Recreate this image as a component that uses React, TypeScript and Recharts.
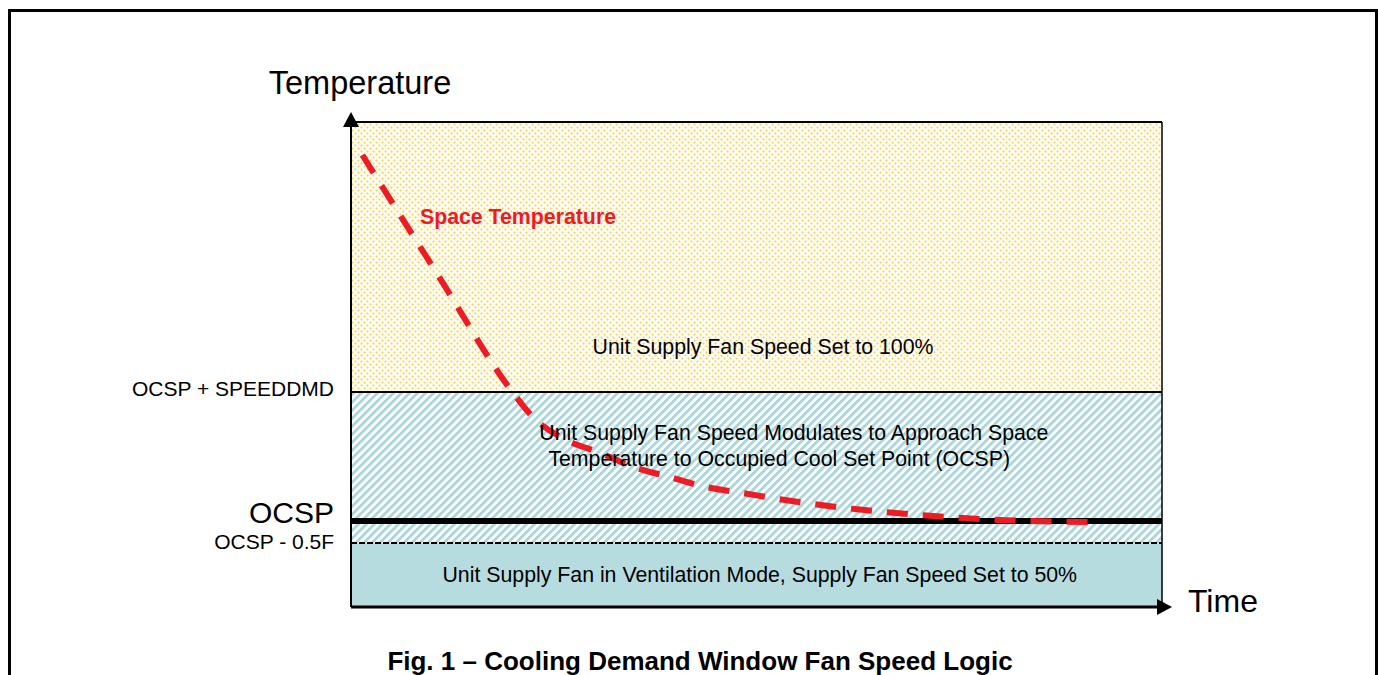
import React from "react";
import {
  ComposedChart,
  Line,
  XAxis,
  YAxis,
  ReferenceArea,
  ReferenceLine,
  ReferenceDot,
} from "recharts";

// time runs 0..100, temperature in arbitrary units 0..100
const timePts = [1.4, 10.7, 20.0, 22.4, 26.6, 30.7, 34.8, 39.3, 43.9, 48.3, 53.3, 62.1, 71.4, 80.6, 91.1];
const spaceTemp = [93.2, 68.5, 44.1, 39.2, 34.4, 31.8, 28.9, 26.8, 24.7, 23.5, 22.1, 20.2, 18.8, 17.9, 17.5];

const tickValues = [44.33, 17.73, 13.2];
const tickLabels = ["OCSP + SPEEDDMD", "OCSP", "OCSP - 0.5F"];

const SPEED_DMD = tickValues[0];
const OCSP = tickValues[1];
const OCSP_LOW = tickValues[2];

const data = timePts.map((t, i) => ({ t, temp: spaceTemp[i] }));

const FONT = "'Liberation Sans', Arial, Helvetica, sans-serif";
const RED = "#ed1c24";

const YTick = (props: any) => {
  const { x, y, payload } = props;
  const idx = tickValues.indexOf(payload.value);
  const text = tickLabels[idx] ?? "";
  const big = text === "OCSP";
  const small = text === "OCSP - 0.5F";
  return (
    <text
      x={x}
      y={y + (big ? -9 : small ? -1 : -3)}
      textAnchor="end"
      dominantBaseline="central"
      fontFamily={FONT}
      fontSize={big ? 30 : 21}
      fill="#000"
    >
      {text}
    </text>
  );
};

const note = (text: string, opts: { anchor?: string; bold?: boolean; color?: string } = {}) =>
  (p: any) => (
    <text
      x={p.viewBox.x}
      y={p.viewBox.y}
      textAnchor={opts.anchor ?? "middle"}
      dominantBaseline="central"
      fontFamily={FONT}
      fontSize={21.3}
      fontWeight={opts.bold ? 700 : 400}
      fill={opts.color ?? "#000"}
    >
      {text}
    </text>
  );

export default function App() {
  return (
    <div style={{ position: "fixed", left: 0, top: 0, width: 1378, height: 675, overflow: "hidden", background: "#fff" }}>
      <div
        style={{
          position: "absolute",
          left: 8,
          top: 9,
          width: 1370,
          height: 700,
          boxSizing: "border-box",
          border: "3px solid #000",
        }}
      />
      <div style={{ position: "absolute", left: 0, top: 0 }}>
        <ComposedChart
          width={1378}
          height={675}
          data={data}
          margin={{ top: 122, right: 216, bottom: 38, left: 151 }}
        >
          <defs>
            <pattern id="dots" width="6" height="6" patternUnits="userSpaceOnUse">
              <rect width="6" height="6" fill="#fffdf2" />
              <circle cx="1.5" cy="1.5" r="1" fill="#f8cd4a" />
              <circle cx="4.5" cy="4.5" r="1" fill="#f8cd4a" />
            </pattern>
            <pattern id="hatch" width="5.66" height="6" patternUnits="userSpaceOnUse" patternTransform="rotate(45)">
              <rect width="5.66" height="6" fill="#fff" />
              <rect width="2.9" height="6" fill="#abd6dc" />
            </pattern>
            <marker
              id="arrow"
              viewBox="0 -8 15 16"
              refX="5"
              refY="0"
              markerWidth="15"
              markerHeight="16"
              markerUnits="userSpaceOnUse"
              orient="auto-start-reverse"
            >
              <path d="M0,-8 L15,0 L0,8 z" fill="#000" />
            </marker>
          </defs>

          <XAxis
            dataKey="t"
            type="number"
            domain={[0, 100]}
            height={30}
            tick={false}
            tickLine={false}
            axisLine={{ stroke: "#000", strokeWidth: 3, markerEnd: "url(#arrow)" }}
            label={(p: any) => (
              <text
                x={p.viewBox.x + p.viewBox.width + 26}
                y={p.viewBox.y + 5}
                fontFamily={FONT}
                fontSize={32}
                fill="#000"
              >
                Time
              </text>
            )}
          />
          <YAxis
            type="number"
            domain={[0, 100]}
            width={200}
            ticks={tickValues}
            interval={0}
            tickSize={0}
            tickMargin={17}
            tickLine={false}
            tick={<YTick />}
            axisLine={{ stroke: "#000", strokeWidth: 2, markerStart: "url(#arrow)" }}
            label={(p: any) => (
              <text
                x={p.viewBox.x + p.viewBox.width + 9}
                y={p.viewBox.y - 28}
                textAnchor="middle"
                fontFamily={FONT}
                fontSize={32.5}
                fill="#000"
              >
                Temperature
              </text>
            )}
          />

          <ReferenceArea y1={SPEED_DMD} y2={100} fill="url(#dots)" fillOpacity={1} stroke="none" />
          <ReferenceArea y1={OCSP_LOW} y2={SPEED_DMD} fill="url(#hatch)" fillOpacity={1} stroke="none" />
          <ReferenceArea y1={0} y2={OCSP_LOW} fill="#b7dce0" fillOpacity={1} stroke="none" />

          <ReferenceLine y={100} stroke="#000" strokeWidth={2} />
          <ReferenceLine x={100} stroke="#000" strokeWidth={1.5} />
          <ReferenceLine y={SPEED_DMD} stroke="#000" strokeWidth={2} />
          <ReferenceLine y={OCSP_LOW} stroke="#000" strokeWidth={2} strokeDasharray="6 2" />
          <ReferenceLine y={OCSP} stroke="#000" strokeWidth={6} />

          <ReferenceDot x={50.8} y={53.6} r={0} fill="none" stroke="none" label={note("Unit Supply Fan Speed Set to 100%")} />
          <ReferenceDot x={54.6} y={35.9} r={0} fill="none" stroke="none" label={note("Unit Supply Fan Speed Modulates to Approach Space")} />
          <ReferenceDot x={52.8} y={30.5} r={0} fill="none" stroke="none" label={note("Temperature to Occupied Cool Set Point (OCSP)")} />
          <ReferenceDot x={50.4} y={6.6} r={0} fill="none" stroke="none" label={note("Unit Supply Fan in Ventilation Mode, Supply Fan Speed Set to 50%")} />
          <ReferenceDot
            x={8.5}
            y={80.4}
            r={0}
            fill="none"
            stroke="none"
            label={note("Space Temperature", { anchor: "start", bold: true, color: RED })}
          />

          <Line
            dataKey="temp"
            type="monotone"
            stroke={RED}
            strokeWidth={6}
            strokeDasharray="21 15"
            dot={false}
            activeDot={false}
            isAnimationActive={false}
          />
        </ComposedChart>
      </div>
      <div
        style={{
          position: "absolute",
          left: 0,
          width: 1400,
          top: 645,
          textAlign: "center",
          fontFamily: FONT,
          fontWeight: 700,
          fontSize: 26,
          lineHeight: "32px",
          whiteSpace: "nowrap",
        }}
      >
        Fig. 1 – Cooling Demand Window Fan Speed Logic
      </div>
    </div>
  );
}
